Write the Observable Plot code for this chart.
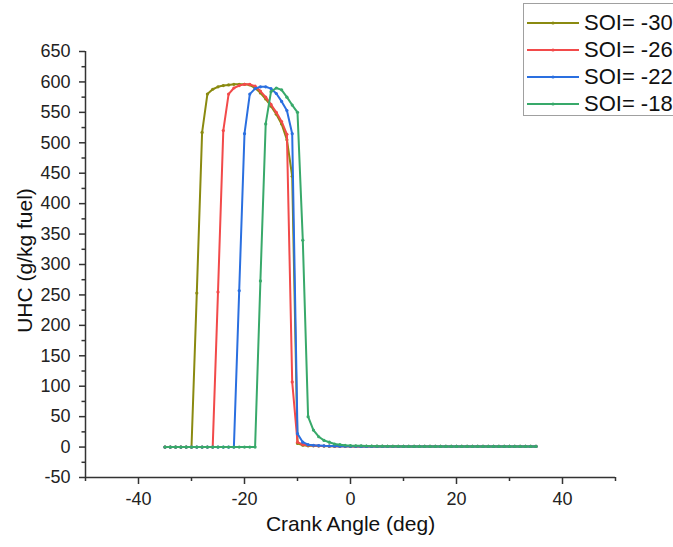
<!DOCTYPE html>
<html>
<head>
<meta charset="utf-8">
<script src="https://cdn.jsdelivr.net/npm/d3@7"></script>
<script src="https://cdn.jsdelivr.net/npm/@observablehq/plot@0.6"></script>
<style>
  html, body { margin: 0; padding: 0; background: #fff; overflow: hidden; }
  #wrap { position: relative; width: 673px; height: 547px; }
  #legend { position: absolute; left: 523px; top: 3px; width: 170px; height: 113px;
    border: 1px solid #a0a0a0; background: #fff; box-sizing: border-box;
    font-family: "Liberation Sans", Arial, sans-serif; font-size: 22px; color: #111; padding-top: 5px; }
  .row { display: flex; align-items: center; height: 27px; white-space: nowrap; }
  .row svg { margin-left: 3px; margin-right: 5px; }
</style>
</head>
<body>
<div id="wrap"></div>
<script>
// Crank angle (deg)
const angles = [-35,-34,-33,-32,-31,-30,-29,-28,-27,-26,-25,-24,-23,-22,-21,-20,-19,-18,-17,-16,-15,-14,-13,-12,-11,-10,-9,-8,-7,-6,-5,-4,-3,-2,-1,0,1,2,3,4,5,6,7,8,9,10,11,12,13,14,15,16,17,18,19,20,21,22,23,24,25,26,27,28,29,30,31,32,33,34,35];

// UHC (g/kg fuel) per SOI
const soiM30 = [0,0,0,0,0,0,253,517,580,588,592,594,595,596,596,596,595,590,582,572,560,547,531,505,445,6,3,2,2,1.8,1.6,1.5,1.4,1.3,1.2,1.1,1,1,1,1,1,1,1,1,1,1,1,1,1,1,1,1,1,1,1,1,1,1,1,1,1,1,1,1,1,1,1,1,1,1,1];
const soiM26 = [0,0,0,0,0,0,0,0,0,0,255,520,580,590,594,596,596,593,585,575,563,550,535,514,107,8,4,3,2.5,2,1.8,1.6,1.5,1.4,1.3,1.2,1.1,1,1,1,1,1,1,1,1,1,1,1,1,1,1,1,1,1,1,1,1,1,1,1,1,1,1,1,1,1,1,1,1,1,1];
const soiM22 = [0,0,0,0,0,0,0,0,0,0,0,0,0,0,257,515,580,589,592,592,589,581,568,553,515,22,8,4,3,2.5,2,1.8,1.6,1.5,1.4,1.3,1.2,1.1,1,1,1,1,1,1,1,1,1,1,1,1,1,1,1,1,1,1,1,1,1,1,1,1,1,1,1,1,1,1,1,1,1];
const soiM18 = [0,0,0,0,0,0,0,0,0,0,0,0,0,0,0,0,0,0,273,531,584,590,587,575,562,550,340,50,28,17,11,8,5,4,3,2.5,2.2,2,1.8,1.6,1.5,1.4,1.3,1.2,1.2,1.1,1.1,1,1,1,1,1,1,1,1,1,1,1,1,1,1,1,1,1,1,1,1,1,1,1,1];

const seriesNames = ["SOI= -30", "SOI= -26", "SOI= -22", "SOI= -18"];
const seriesColors = ["#8a8a10", "#f24a4a", "#2a6fe0", "#38a96a"];
const seriesValues = [soiM30, soiM26, soiM22, soiM18];

const xMajorTicks = [-40, -20, 0, 20, 40];
const xMinorTicks = [-50, -30, -10, 10, 30, 50];
const yMajorTicks = [-50, 0, 50, 100, 150, 200, 250, 300, 350, 400, 450, 500, 550, 600, 650];
const yMinorTicks = [-25, 25, 75, 125, 175, 225, 275, 325, 375, 425, 475, 525, 575, 625];

const data = seriesNames.flatMap((name, k) =>
  angles.map((a, i) => ({angle: a, uhc: seriesValues[k][i], series: name})));

const axisColor = "#333";
const plainFormat = d => String(d);

const seriesMarks = seriesNames.flatMap((name, k) => {
  const d = data.filter(r => r.series === name);
  return [
    Plot.line(d, {x: "angle", y: "uhc", stroke: seriesColors[k], strokeWidth: 2}),
    Plot.dot(d, {x: "angle", y: "uhc", fill: seriesColors[k], r: 1.6, stroke: "none"})
  ];
});

const chart = Plot.plot({
  width: 673,
  height: 547,
  marginLeft: 85,
  marginRight: 58,
  marginTop: 51,
  marginBottom: 70,
  x: {domain: [-50, 50]},
  y: {domain: [-50, 650]},
  style: {fontFamily: "'Liberation Sans', Arial, sans-serif", fontSize: "18px", color: axisColor, background: "#fff", overflow: "visible"},
  marks: [
    Plot.axisX({ticks: xMajorTicks, tickSize: 7, tickPadding: 8, tickFormat: plainFormat, label: null, fontSize: 18, fill: "#222", strokeWidth: 1.5}),
    Plot.axisX({ticks: xMinorTicks, tickSize: 4, tickFormat: () => "", label: null, strokeWidth: 1.5}),
    Plot.axisY({ticks: yMajorTicks, tickSize: 6, tickPadding: 9, tickFormat: plainFormat, label: null, fontSize: 18, fill: "#222", strokeWidth: 1.5}),
    Plot.axisY({ticks: yMinorTicks, tickSize: 3.5, tickFormat: () => "", label: null, strokeWidth: 1.5}),
    Plot.ruleX([-50], {stroke: axisColor, strokeWidth: 1.5}),
    Plot.ruleY([-50], {stroke: axisColor, strokeWidth: 1.5}),
    Plot.text(["Crank Angle (deg)"], {frameAnchor: "bottom", textAnchor: "middle", dy: 53, fontSize: 21, fill: "#111"}),
    Plot.text(["UHC (g/kg fuel)"], {frameAnchor: "left", textAnchor: "middle", dx: -60, dy: -4, rotate: -90, fontSize: 21, fill: "#111"}),
    ...seriesMarks
  ]
});

const wrap = document.getElementById("wrap");
wrap.appendChild(chart);

// Legend
const legend = document.createElement("div");
legend.id = "legend";
seriesNames.forEach((name, k) => {
  const row = document.createElement("div");
  row.className = "row";
  row.innerHTML = `<svg width="52" height="10"><line x1="0" y1="5" x2="52" y2="5" stroke="${seriesColors[k]}" stroke-width="2"/><circle cx="26" cy="5" r="1.6" fill="${seriesColors[k]}"/></svg><span>${name}</span>`;
  legend.appendChild(row);
});
wrap.appendChild(legend);
</script>
</body>
</html>
